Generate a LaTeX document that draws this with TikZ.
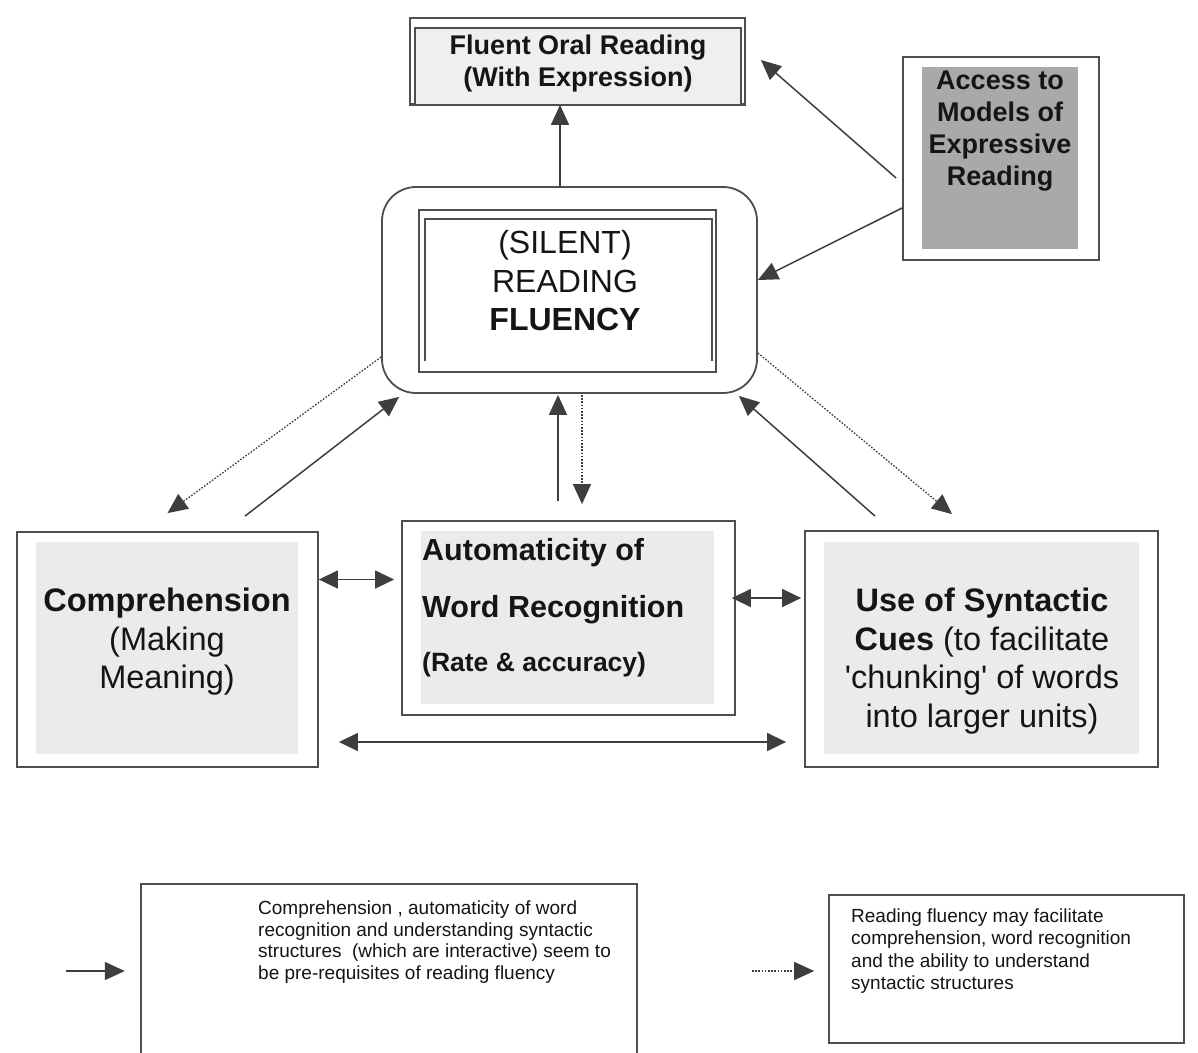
\documentclass[tikz,border=0pt]{standalone}
\usepackage{fontspec}
\setmainfont{Liberation Sans}[Ligatures=TeXOff]
\usetikzlibrary{arrows.meta,calc}
\definecolor{framec}{HTML}{4E4E4E}
\definecolor{arrc}{HTML}{3E3E3E}
\definecolor{panel}{HTML}{EBEBEB}
\definecolor{lightpanel}{HTML}{EFEFEF}
\definecolor{darkpanel}{HTML}{A9A9A9}
\definecolor{inkc}{HTML}{151515}

\begin{document}
\begin{tikzpicture}[x=1pt,y=-1pt,
  frame/.style={draw=framec,line width=1.8pt,inner sep=0pt,fill=white},
  thinframe/.style={draw=framec,line width=1.6pt},
  arr/.style={draw=arrc,line width=1.5pt,-{Triangle[length=20pt,width=18pt]}},
  darr/.style={draw=arrc,line width=1.5pt,{Triangle[length=19pt,width=18pt]}-{Triangle[length=19pt,width=18pt]}},
  dotarr/.style={arr,line width=1.3pt,dash pattern=on 1.6pt off 1.6pt},
  boxtext/.style={text=inkc,inner sep=0pt,align=center},
  bigfont/.style={font=\fontsize{32.5}{38.5}\selectfont},
  legendtext/.style={text=inkc,inner sep=0pt,align=left,anchor=west},
]
\useasboundingbox (0,0) rectangle (1198,1052);
\fill[white] (0,0) rectangle (1198,1052);

% ---------- boxes ----------
\node[frame,minimum width=335pt,minimum height=86pt] (fluent) at (577.5,61) {};
\fill[lightpanel] ([shift={(6pt,-11pt)}]fluent.north west) rectangle ([shift={(-5pt,1pt)}]fluent.south east);
\draw[thinframe] ([xshift=6pt]fluent.south west) |- ([shift={(-5pt,-11pt)}]fluent.north east) -- ([xshift=-5pt]fluent.south east);
\draw[framec,line width=1.8pt] (fluent.south west) -- (fluent.south east);

\node[frame,minimum width=196pt,minimum height=203pt] (access) at (1001,158.5) {};
\fill[darkpanel] ([shift={(20pt,-11pt)}]access.north west) rectangle ([shift={(-22pt,12pt)}]access.south east);

\node[frame,rounded corners=34pt,minimum width=375pt,minimum height=206pt] (silent) at (569.5,290) {};
\draw[thinframe] ([shift={(38pt,-24pt)}]silent.north west) rectangle ([shift={(-42pt,22pt)}]silent.south east);
\draw[thinframe] ([shift={(44pt,-175pt)}]silent.north west) -- ([shift={(44pt,-33pt)}]silent.north west)
  -- ([shift={(-46pt,-33pt)}]silent.north east) -- ([shift={(-46pt,-175pt)}]silent.north east);

\node[frame,minimum width=301pt,minimum height=235pt] (comp) at (167.5,649.5) {};
\fill[panel] ([shift={(20pt,-11pt)}]comp.north west) rectangle ([shift={(-21pt,14pt)}]comp.south east);

\node[frame,minimum width=333pt,minimum height=194pt] (auto) at (568.5,618) {};
\fill[panel] ([shift={(20pt,-11pt)}]auto.north west) rectangle ([shift={(-22pt,12pt)}]auto.south east);

\node[frame,minimum width=353pt,minimum height=236pt] (synt) at (981.5,649) {};
\fill[panel] ([shift={(20pt,-12pt)}]synt.north west) rectangle ([shift={(-20pt,14pt)}]synt.south east);

% legend frames (the left one runs off the bottom edge)
\node[inner sep=0pt,minimum width=496pt,minimum height=186pt] (leg1) at (389,977) {};
\draw[thinframe] (leg1.south west) -- (leg1.north west) -- (leg1.north east) -- (leg1.south east);
\node[frame,line width=1.6pt,minimum width=355pt,minimum height=148pt] (leg2) at (1006.5,969) {};

% ---------- texts ----------
\node[boxtext,font=\bfseries\fontsize{27}{32}\selectfont] (fluent-t) at (578,64)
  {Fluent Oral Reading\\(With Expression)};
\node[boxtext,font=\bfseries\fontsize{27}{32}\selectfont] (access-t) at (1000,131)
  {Access to\\Models of\\Expressive\\Reading};
\node[boxtext,font=\fontsize{32}{38.5}\selectfont] (silent-t) at (565,281)
  {(SILENT)\\READING\\\textbf{FLUENCY}};
\node[boxtext,bigfont] (comp-t) at (167,642)
  {\textbf{Comprehension}\\(Making\\Meaning)};
\node[text=inkc,inner sep=0pt,align=left,anchor=west,font=\bfseries\fontsize{30.5}{57}\selectfont] (auto-t) at (422,607.5)
  {Automaticity of\\Word Recognition\\[-3pt]{\fontsize{26.5}{30}\selectfont (Rate \& accuracy)}};
\node[boxtext,bigfont] (synt-t) at (982,661)
  {\textbf{Use of Syntactic}\\\textbf{Cues} (to facilitate\\'chunking' of words\\into larger units)};

\node[legendtext,font=\fontsize{19}{21.5}\selectfont] (leg1-t) at (258,942)
  {Comprehension , automaticity of word\\recognition and understanding syntactic\\structures\ \ (which are interactive) seem to\\be pre-requisites of reading fluency};
\node[legendtext,font=\fontsize{19}{22.3}\selectfont] (leg2-t) at (851,951)
  {Reading fluency may facilitate\\comprehension, word recognition\\and the ability to understand\\syntactic structures};

% ---------- connectors ----------
\draw[arr] ([xshift=-9.5pt]silent.north) -- ([xshift=-9.5pt]silent.north |- fluent.south);
\draw[arr] ([shift={(-6pt,-19.5pt)}]access.west) -- ([shift={(15pt,1pt)}]fluent.east);
\draw[arr] ([yshift=-49.5pt]access.west) -- ([yshift=10pt]silent.east);

\draw[arr] ([shift={(77.5pt,15pt)}]comp.north) -- ([shift={(18pt,-3pt)}]silent.south west);
\draw[dotarr] ([yshift=-67pt]silent.west) -- ([yshift=18pt]comp.north);

\draw[arr] ([shift={(-10.5pt,19pt)}]auto.north) -- ([shift={(-11.5pt,-1pt)}]silent.south);
\draw[dotarr] ([shift={(12.5pt,-1pt)}]silent.south) -- ([shift={(13.5pt,16pt)}]auto.north);

\draw[dotarr] ([yshift=-63pt]silent.east) -- ([shift={(-29.5pt,16pt)}]synt.north);
\draw[arr] ([shift={(-106.5pt,14pt)}]synt.north) -- ([shift={(-19pt,-2pt)}]silent.south east);

\draw[darr,shorten >=7pt] ([yshift=70pt]comp.east) -- ([yshift=70pt]comp.east -| auto.west);
\draw[darr,shorten <=-4pt,shorten >=3pt] ([yshift=20pt]auto.east) -- ([yshift=20pt]auto.east -| synt.west);
\draw[darr,shorten <=20pt,shorten >=18pt] ([yshift=-92.5pt]comp.east) -- ([yshift=-92.5pt]comp.east -| synt.west);

% legend keys
\coordinate (key1) at (66,971);
\coordinate (key2) at (752,971);
\draw[arr,shorten >=16pt] (key1) -- (key1 -| leg1.west);
\draw[dotarr,shorten >=14pt] (key2) -- (key2 -| leg2.west);
\end{tikzpicture}
\end{document}
